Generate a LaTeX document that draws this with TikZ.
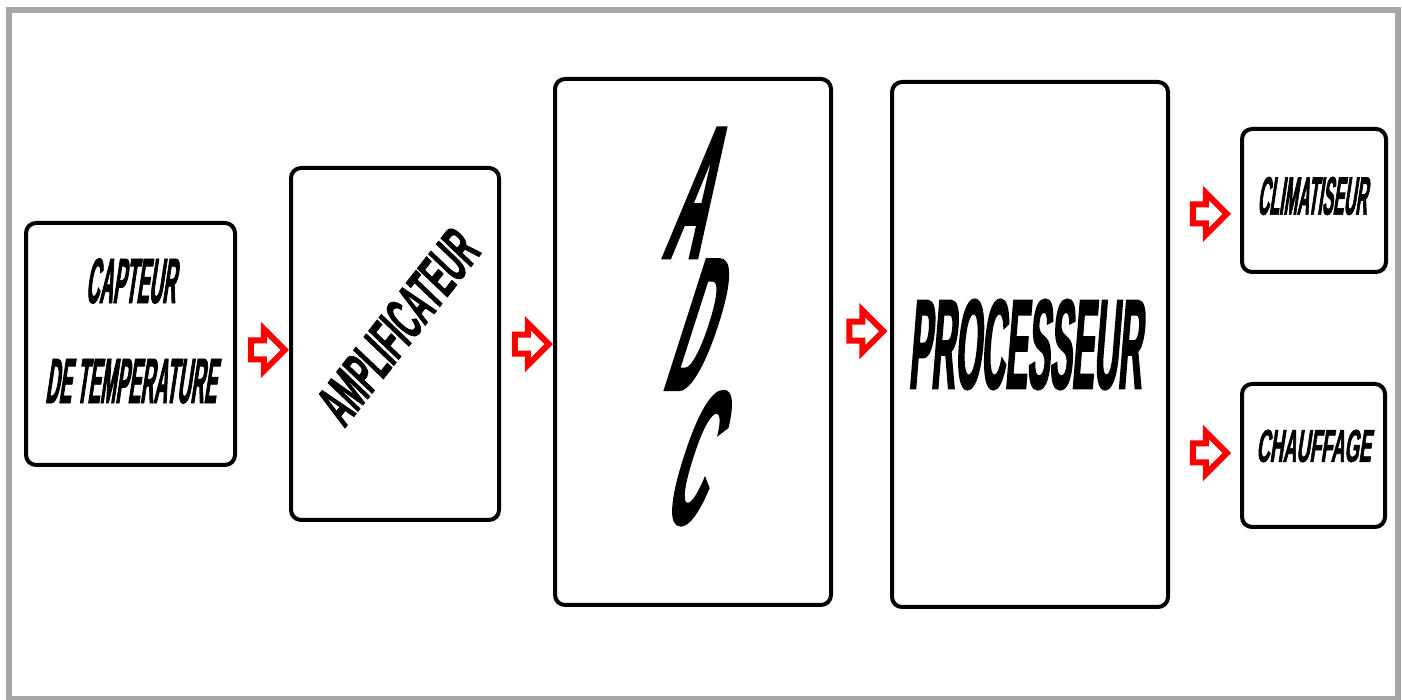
\documentclass[tikz,border=0pt]{standalone}
\usepackage{fontspec}
\newfontfamily\avfont{Liberation Sans}
\usetikzlibrary{positioning,shapes.arrows}
\definecolor{framegrey}{HTML}{A6A6A6}
\definecolor{arrowred}{HTML}{FF0000}
% condensed, slanted caps: stretch, slant, size, skip
\newcommand\avf[4]{\fontsize{#3}{#4}\avfont\bfseries\addfontfeatures{FakeStretch=#1,FakeSlant=#2,FakeBold=1.2}}
\tikzset{blk/.style={draw,line width=4pt,rounded corners=10pt,fill=white},harrow/.style={single arrow,draw=arrowred,fill=white,line width=6pt,inner sep=6.5pt,minimum height=34pt,single arrow head extend=11.5pt},txt/.style={inner sep=0pt,align=center},frame/.style={draw=framegrey,line width=6pt}}

\begin{document}
\begin{tikzpicture}[x=1pt,y=1pt,node distance=52pt]
\useasboundingbox (0,0) rectangle (1402,700);
\draw[frame] (8.5,1) rectangle (1397.5,690);
\node[blk,minimum width=209pt,minimum height=242pt] (capteur) at (130.5,356) {};\node[blk,minimum width=208pt,minimum height=352pt,right=of capteur] (ampli) {};\node[blk,minimum width=276pt,minimum height=526pt,right=of ampli,yshift=2pt] (adc) {};\node[blk,minimum width=276pt,minimum height=525pt,right=57pt of adc,yshift=-2.5pt] (proc) {};
\node[blk,minimum width=144pt,minimum height=143pt,right=70pt of proc,yshift=144pt] (clim) {};\node[blk,minimum width=143pt,minimum height=143pt,right=70pt of proc,yshift=-111pt] (chauf) {};
\node[txt,font=\avf{0.29}{0.15}{64}{100}] (capteur-t) at ([yshift=13pt]capteur) {CAPTEUR\\DE TEMPERATURE};\node[txt,rotate=52,font=\avf{0.46}{0.1}{60}{60}] (ampli-t) at ([xshift=2pt,yshift=16pt]ampli) {AMPLIFICATEUR};\node[txt,font=\avf{0.27}{0.32}{190}{120}] (adc-t) at ([xshift=-13pt,yshift=15.5pt]adc) {A\\D\\C};
\node[txt,font=\avf{0.26}{0.08}{128}{130}] (proc-t) at ([xshift=-5pt]proc) {PROCESSEUR};\node[txt,font=\avf{0.30}{0.15}{54}{60}] (clim-t) at ([xshift=-2pt,yshift=4.5pt]clim) {CLIMATISEUR};\node[txt,font=\avf{0.40}{0.15}{46}{50}] (chauf-t) at ([yshift=9.5pt]chauf) {CHAUFFAGE};
\path (capteur) -- node[harrow,yshift=-6pt] (a1) {} (ampli);\path (ampli) -- node[harrow,yshift=-1pt] (a2) {} (adc);\path (adc) -- node[harrow,yshift=12pt] (a3) {} (proc);
\path (proc.east |- clim) -- node[harrow,yshift=-13.5pt] (a4) {} (clim.west);\path (proc.east |- chauf) -- node[harrow,yshift=2.5pt] (a5) {} (chauf.west);
\end{tikzpicture}
\end{document}
